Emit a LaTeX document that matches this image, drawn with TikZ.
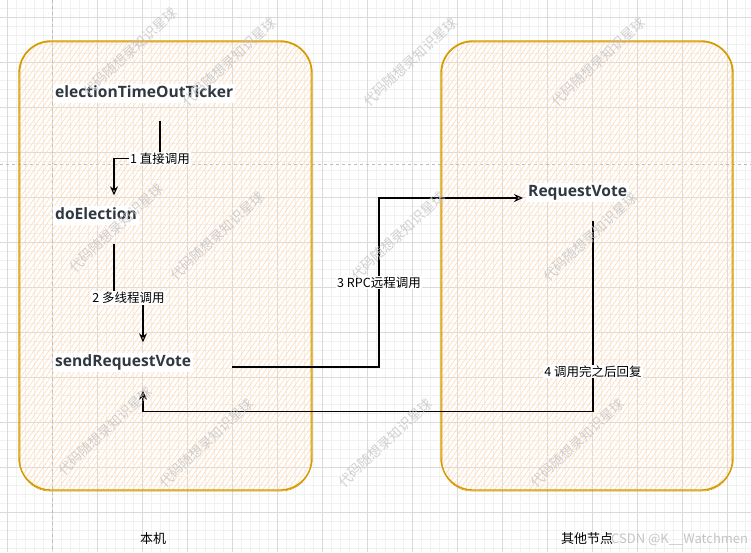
\documentclass[tikz,border=0pt]{standalone}
\usepackage{fontspec}
\setmainfont{Open Sans}
\newfontfamily\cjk{Noto Sans CJK SC}
\usetikzlibrary{arrows.meta,positioning}
\definecolor{boxline}{HTML}{D79B00}
\definecolor{hatchink}{HTML}{FFDDBA}
\definecolor{nodeink}{HTML}{2F3740}
\definecolor{gridmaj}{HTML}{DADADA}
\definecolor{gridmin}{HTML}{F1F1F1}
\definecolor{guide}{HTML}{BDBDBD}
\definecolor{wmark}{HTML}{C4C4C4}
% rounded hatched box from x=#1 to x=#2
\newcommand{\hatchbox}[2]{%
  \begin{scope}
    \clip[rounded corners=32pt] (#1,41) rectangle (#2,490);
    \foreach \h in {0,5,...,640} \draw[hatchline] (#1-330+\h,495) -- ++(318,-459);
  \end{scope}
  \draw[boxline,line width=1.4pt,rounded corners=32pt] (#1,41) rectangle (#2,490);
  \draw[boxline,line width=0.6pt,rounded corners=30pt] (#1+1,42) rectangle (#2-1,491);}

\begin{document}
\begin{tikzpicture}[
  x=1pt, y=-1pt, >={Stealth[open,length=9pt,width=8pt]},
  txt/.style={anchor=west, fill=white, inner sep=2pt, text=nodeink,
              text height=12pt, text depth=3pt,
              font=\fontsize{15.6}{18}\selectfont\bfseries},
  lbl/.style={fill=white, inner sep=1pt, font=\cjk\fontsize{12.5}{14}\selectfont},
  link/.style={->, line width=1.1pt, black},
  hatchline/.style={hatchink, line width=0.7pt},
]
\useasboundingbox (0,0) rectangle (751,552);
\fill[white] (0,0) rectangle (751,552);

% ===== grid + guides =====
\foreach \g in {7,16,...,751} \draw[gridmin,line width=0.6pt] (\g,0) -- (\g,552);
\foreach \g in {8,17,...,552} \draw[gridmin,line width=0.6pt] (0,\g) -- (751,\g);
\foreach \g in {7,52,...,751} \draw[gridmaj,line width=0.8pt] (\g,0) -- (\g,552);
\foreach \g in {17,62,...,552} \draw[gridmaj,line width=0.8pt] (0,\g) -- (751,\g);
\draw[guide,line width=0.8pt,dash pattern=on 3pt off 3pt] (52,0) -- (52,552);
\draw[guide,line width=0.8pt,dash pattern=on 3pt off 3pt] (0,164) -- (751,164);

% ===== two machines =====
\hatchbox{19}{312}
\hatchbox{441}{733}

% ===== functions =====
\node[txt] (tick) at (53,93)  {electionTimeOutTicker};
\node[txt] (elec) at (53,215) {doElection};
\node[txt] (send) at (53,362) {sendRequestVote};
\node[txt] (vote) at (526,192) {RequestVote};

% ===== calls =====
\draw[link] ([shift={(107,18)}]tick.south west) -- ++(0,38)
  node[lbl] {1 直接调用} -| ([shift={(61,-10)}]elec.north west);
\draw[link] ([shift={(61,19)}]elec.south west) -- ++(0,54)
  -- node[lbl] {2 多线程调用} ++(29,0) -- ([shift={(90,-10)}]send.north west);
\draw[link] ([shift={(179,5)}]send.west) -- ++(147,0)
  -- node[lbl] {3 RPC远程调用} ++(0,-169) -- ([shift={(-3,6)}]vote.west);
\draw[link] ([shift={(67,19)}]vote.south west)
  -- node[lbl,pos=0.79] {4 调用完之后回复} ++(0,191) -| ([shift={(90,19)}]send.south west);

% ===== captions =====
\node[font=\cjk\fontsize{13}{15}\selectfont] (self) at (153,539) {本机};
\node[font=\cjk\fontsize{13}{15}\selectfont] (peer) at (587,539) {其他节点};

% ===== watermarks =====
\foreach \wx/\wy in {130/52,229/62,410/62,598/62,116/228,217/236,398/236,590/237,
                     105/431,206/443,385/443,577/443}
  \node[wmark,opacity=0.8,rotate=43,font=\cjk\fontsize{13.5}{15}\selectfont] at (\wx,\wy) {代码随想录知识星球};
\node[wmark,anchor=west,inner sep=0pt,font=\cjk\fontsize{13}{15}\selectfont] (csdn) at (611,539) {CSDN @K\_\_Watchmen};
\end{tikzpicture}
\end{document}
